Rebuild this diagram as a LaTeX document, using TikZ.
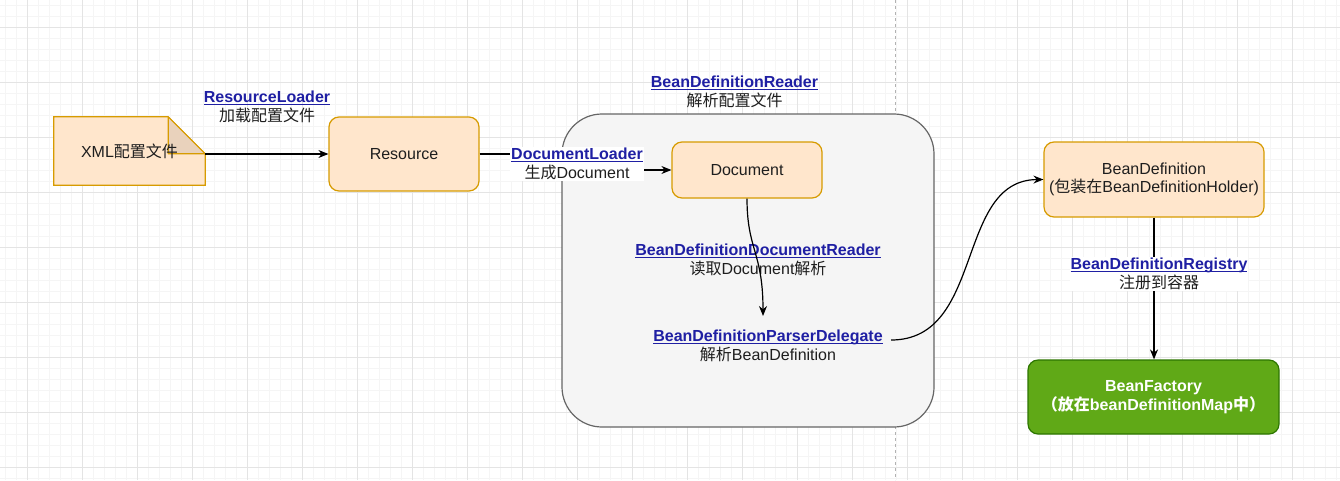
\documentclass[tikz,border=0pt]{standalone}
\usepackage{fontspec}
\setmainfont{Liberation Sans}
\newfontfamily\cjk{Noto Sans CJK SC}
\usetikzlibrary{arrows.meta,calc}
\definecolor{orfill}{HTML}{FFE6CC}
\definecolor{orline}{HTML}{D79B00}
\definecolor{foldc}{HTML}{E9D2BC}
\definecolor{contfill}{HTML}{F5F5F5}
\definecolor{contline}{HTML}{666666}
\definecolor{gfill}{HTML}{60A917}
\definecolor{gline}{HTML}{2D7600}
\definecolor{linkc}{HTML}{1F1FA3}
\definecolor{gmin}{HTML}{F5F5F5}
\definecolor{gmaj}{HTML}{E4E4E4}
\definecolor{txt}{HTML}{1E1E1E}
\newcommand\lnk[1]{{\color{linkc}\bfseries\setbox0=\hbox{#1}\rlap{\rule[-2pt]{\wd0}{1pt}}\box0}}
\begin{document}
\begin{tikzpicture}[x=1pt,y=-1pt,
  font=\fontsize{16}{18.5}\selectfont,
  orbox/.style={draw=orline, fill=orfill, rounded corners=10pt, line width=1.2pt, inner sep=0pt, text=txt, align=center},
  lbl/.style={align=center, inner sep=1pt, text=txt},
  wlbl/.style={align=center, inner sep=1pt, text=txt, fill=white},
  arr/.style={draw=black, line width=1.2pt, -{Stealth[length=10pt,width=8pt]}}]
\useasboundingbox (0,0) rectangle (1340,480);
\fill[white] (0,0) rectangle (1340,480);
% grid
\foreach \x in {5,16,...,1340} \draw[gmin, line width=1pt] (\x,0) -- (\x,480);
\foreach \y in {5,16,...,480} \draw[gmin, line width=1pt] (0,\y) -- (1340,\y);
\foreach \x in {27,82,...,1340} \draw[gmaj, line width=1pt] (\x,0) -- (\x,480);
\foreach \y in {27,82,...,480} \draw[gmaj, line width=1pt] (0,\y) -- (1340,\y);
\draw[color=black!30, line width=1pt, dash pattern=on 3pt off 3pt] (895,0) -- (895,480);
% container
\node[draw=contline, fill=contfill, line width=1.2pt, rounded corners=40pt, minimum width=372pt, minimum height=313pt, inner sep=0pt] (cont) at (748,270.5) {};
% note
\node[minimum width=151pt, minimum height=68pt, inner sep=0pt] (note) at (129.5,151) {};
\draw[draw=orline, fill=orfill, line width=1.2pt] (note.north west) -- ($(note.north east)+(-37,0)$) -- ($(note.north east)+(0,37)$) -- (note.south east) -- (note.south west) -- cycle;
\draw[draw=orline, fill=foldc, line width=1.2pt, line join=round] ($(note.north east)+(-37,0)$) -- ($(note.north east)+(-37,37)$) -- ($(note.north east)+(0,37)$) -- cycle;
\node[lbl] (notetext) at (note.center) {XML{\cjk 配置文件}};
% boxes
\node[orbox, minimum width=150pt, minimum height=74pt] (res) at (404,154) {Resource};
\node[orbox, minimum width=150pt, minimum height=56pt] (doc) at (747,170) {Document};
\node[orbox, minimum width=220pt, minimum height=75pt] (bd) at (1154,179.5) {BeanDefinition\\({\cjk 包装在}BeanDefinitionHolder)};
\node[draw=gline, fill=gfill, rounded corners=10pt, line width=1.2pt, inner sep=0pt, text=white, align=center, font=\fontsize{16}{19.5}\selectfont\bfseries, minimum width=251pt, minimum height=74pt] (bf) at (1153.5,397) {BeanFactory\\{\cjk （放在}beanDefinitionMap{\cjk 中）}};
% text nodes
\node[lbl] (dele) at (768,346) {\lnk{BeanDefinitionParserDelegate}\\{\cjk 解析}BeanDefinition};
\coordinate (dtop) at (763,316);
\coordinate (dright) at (891,340);
\node[lbl] (lblRL) at (267,107) {\lnk{ResourceLoader}\\{\cjk 加载配置文件}};
\node[lbl] (lblBR) at (734.5,92) {\lnk{BeanDefinitionReader}\\{\cjk 解析配置文件}};
\node[lbl] (lblBDR) at (758,260) {\lnk{BeanDefinitionDocumentReader}\\{\cjk 读取}Document{\cjk 解析}};
% edges
\draw[arr] (note.east |- res.west) -- (res.west);
\draw[arr] (res.east) -- (res.east -| 577,0) -- (doc.west -| 577,0) -- (doc.west);
\draw[arr] (doc.south) .. controls (747,250) and (763,252) .. (dtop);
\draw[arr] (dright) .. controls (985,340) and (955,180) .. (bd.west);
\draw[arr] (bd.south) -- (bd.south |- bf.north);
% labels with white background
\node[wlbl] (lblDL) at (577,164) {\lnk{DocumentLoader}\\{\cjk 生成}Document};
\node[wlbl] (lblReg) at (1159,274) {\lnk{BeanDefinitionRegistry}\\{\cjk 注册到容器}};
\end{tikzpicture}
\end{document}
